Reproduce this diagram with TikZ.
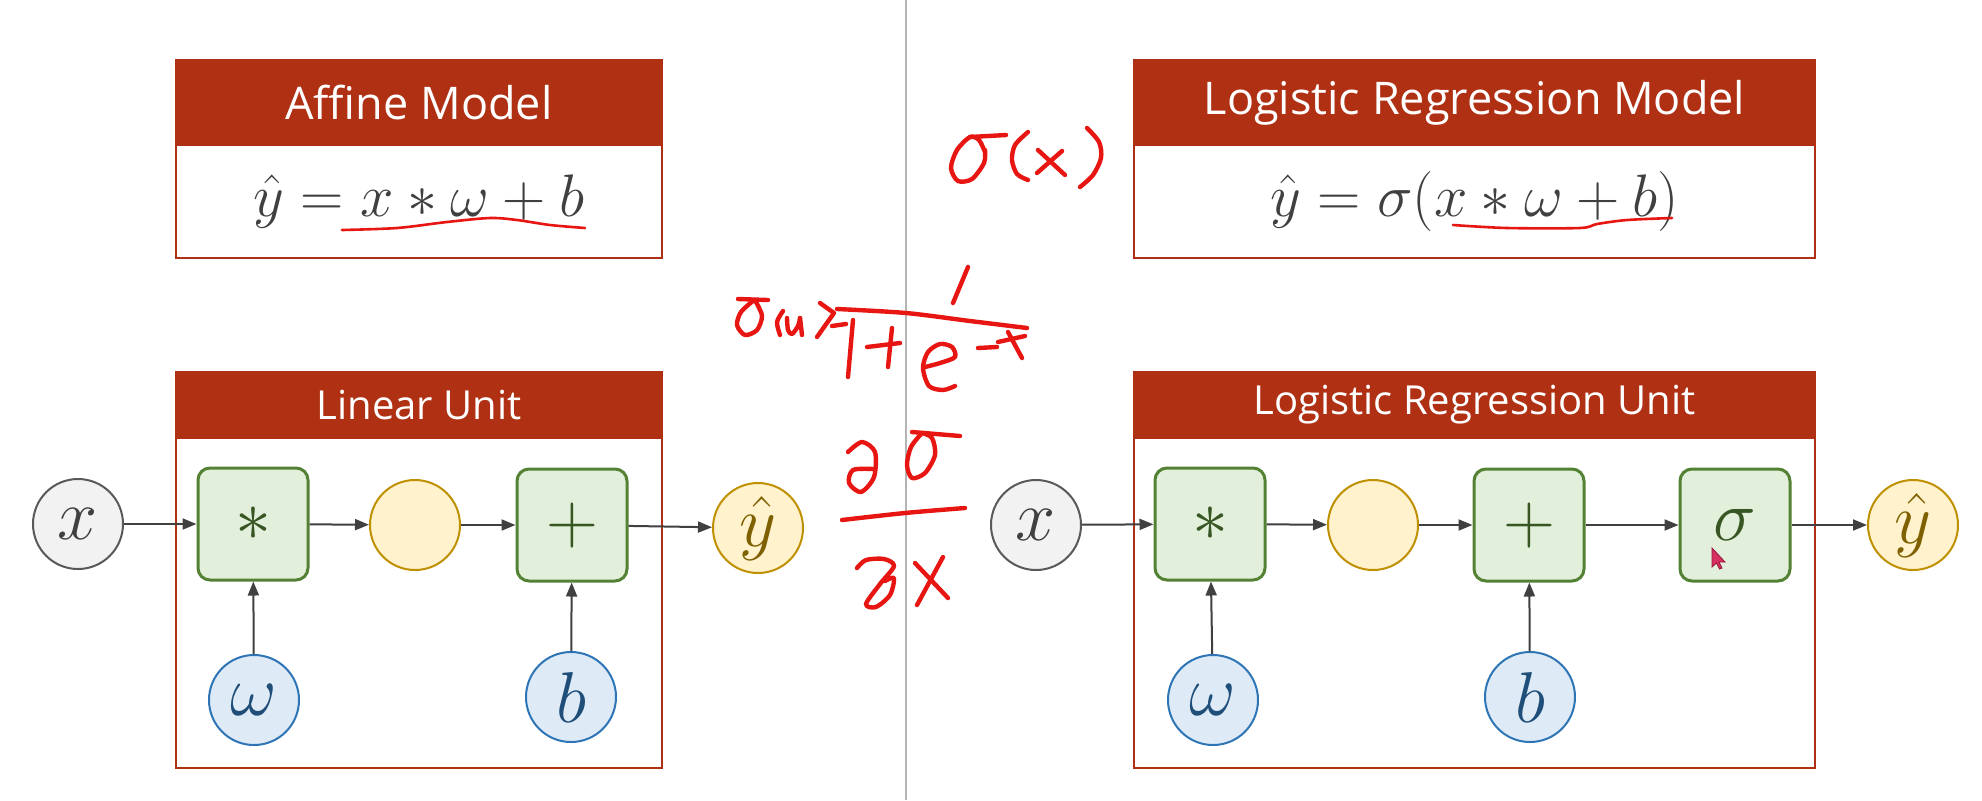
\RequirePackage{fix-cm}
\documentclass[tikz,border=0pt]{standalone}
\usepackage{fontspec}
\setsansfont{Open Sans}
\usetikzlibrary{arrows.meta}
\definecolor{hdr}{RGB}{176,48,20}
\definecolor{gfill}{RGB}{242,242,242}
\definecolor{gdraw}{RGB}{89,89,89}
\definecolor{gtext}{RGB}{64,64,64}
\definecolor{grfill}{RGB}{226,239,218}
\definecolor{grdraw}{RGB}{84,130,53}
\definecolor{grtext}{RGB}{55,86,35}
\definecolor{yfill}{RGB}{255,242,204}
\definecolor{ydraw}{RGB}{191,144,0}
\definecolor{ytext}{RGB}{127,96,0}
\definecolor{bfill}{RGB}{222,235,247}
\definecolor{bdraw}{RGB}{46,117,182}
\definecolor{btext}{RGB}{31,78,121}
\definecolor{arrc}{RGB}{64,64,64}
\definecolor{handred}{RGB}{232,22,18}
\definecolor{cursor}{RGB}{214,48,96}
\begin{document}
\begin{tikzpicture}[x=0.5pt,y=-0.5pt,
  hdrbox/.style={rectangle, fill=hdr, draw=hdr, line width=1pt, text=white, inner sep=0pt},
  bodybox/.style={rectangle, fill=white, draw=hdr, line width=1pt, inner sep=0pt},
  mtitle/.style={font=\sffamily\fontsize{22.5}{27}\selectfont},
  utitle/.style={font=\sffamily\fontsize{20}{24}\selectfont},
  formula/.style={text=gtext, font=\fontsize{30}{36}\selectfont},
  circ/.style={circle, line width=1pt, minimum size=45pt, inner sep=0pt, font=\fontsize{36}{42}\selectfont},
  gcirc/.style={circ, fill=gfill, draw=gdraw, text=gtext},
  ycirc/.style={circ, fill=yfill, draw=ydraw, text=ytext},
  bcirc/.style={circ, fill=bfill, draw=bdraw, text=btext},
  opbox/.style={rectangle, rounded corners=6pt, fill=grfill, draw=grdraw, line width=1.5pt,
    minimum width=55pt, minimum height=56pt, inner sep=0pt, text=grtext, font=\fontsize{36}{42}\selectfont},
  arr/.style={draw=arrc, line width=1pt, -{Triangle[length=7pt,width=5.5pt]}},
  hand/.style={draw=handred, line width=2.2pt, line cap=round, line join=round},
  thinhand/.style={draw=handred, line width=1.3pt, line cap=round, line join=round}]
\useasboundingbox (0,0) rectangle (1982,800);
\fill[white] (0,0) rectangle (1982,800);
% divider
\draw[draw={rgb,255:red,180;green,180;blue,180}, line width=1pt] (906,0) -- (906,800);

% ---------- model boxes ----------
\node[bodybox, minimum width=243pt, minimum height=56.5pt, formula] (afB) at (419,201.5) {$\hat{y} = x \ast \omega + b$};
\node[hdrbox, minimum width=243pt, minimum height=42.5pt, mtitle] (afH) at (419,102.5) {Affine Model};
\node[bodybox, minimum width=340.5pt, minimum height=56.5pt, formula] (lmB) at (1474.5,201.5) {$\hat{y} = \sigma(x \ast \omega + b)$};
\node[hdrbox, minimum width=340.5pt, minimum height=42.5pt, mtitle] (lmH) at (1474.5,102.5) {Logistic Regression Model};

% ---------- unit boxes ----------
\node[bodybox, minimum width=243pt, minimum height=165pt] (luB) at (419,603) {};
\node[hdrbox, minimum width=243pt, minimum height=33pt, utitle] (luH) at (419,405) {Linear Unit};
\node[bodybox, minimum width=340.5pt, minimum height=165pt] (ruB) at (1474.5,603) {};
\node[hdrbox, minimum width=340.5pt, minimum height=33pt, utitle] (ruH) at (1474.5,405) {Logistic Regression Unit};

% ---------- left graph ----------
\node[gcirc] (xL) at (78,524) {$x$};
\node[opbox] (mulL) at (253,524) {$\ast$};
\node[ycirc] (midL) at (415,525) {};
\node[opbox] (addL) at (572,525) {$\mathbf{+}$};
\node[ycirc] (yL) at (758,528) {$\hat{y}$};
\node[bcirc] (wL) at (254,700) {$\omega$};
\node[bcirc] (bL) at (571,697) {$b$};
\draw[arr] (xL) -- (mulL);
\draw[arr] (mulL) -- (midL);
\draw[arr] (midL) -- (addL);
\draw[arr] (addL) -- (yL);
\draw[arr] (wL) -- (mulL);
\draw[arr] (bL) -- (addL);

% ---------- right graph ----------
\node[gcirc] (xR) at (1036,525) {$x$};
\node[opbox] (mulR) at (1210,524) {$\ast$};
\node[ycirc] (midR) at (1373,525) {};
\node[opbox] (addR) at (1529,525) {$\mathbf{+}$};
\node[opbox] (sigR) at (1735,525) {$\sigma$};
\node[ycirc] (yR) at (1913,525) {$\hat{y}$};
\node[bcirc] (wR) at (1213,700) {$\omega$};
\node[bcirc] (bR) at (1530,697) {$b$};
\draw[arr] (xR) -- (mulR);
\draw[arr] (mulR) -- (midR);
\draw[arr] (midR) -- (addR);
\draw[arr] (addR) -- (sigR);
\draw[arr] (sigR) -- (yR);
\draw[arr] (wR) -- (mulR);
\draw[arr] (bR) -- (addR);

% mouse cursor
\filldraw[fill=cursor, draw={rgb,255:red,150;green,20;blue,60}, line width=0.4pt, shift={(1712,548)}]
  (0,0) -- (0,19) -- (4.5,15) -- (7.5,21) -- (10,20) -- (7,14) -- (13,14) -- cycle;

% ---------- handwriting ----------
% underlines
\draw[thinhand] plot[smooth] coordinates {(342,230) (397,228) (447,222) (490,218) (517,220) (550,225) (585,228)};
\draw[thinhand] plot[smooth] coordinates {(1453,225) (1507,228) (1580,228) (1597,224) (1627,220) (1672,218)};
% sigma(x)
\draw[hand] plot[smooth] coordinates {(985,152) (979,140) (970,137) (957,150) (951,168) (958,181) (972,179) (984,163) (985,150)};
\draw[hand] (970,137) -- (1006,135);
\draw[hand] plot[smooth] coordinates {(1028,132) (1015,145) (1012,160) (1017,174) (1028,180)};
\draw[hand] (1038,150) -- (1065,175);
\draw[hand] (1062,151) -- (1037,173);
\draw[hand] plot[smooth] coordinates {(1087,128) (1099,142) (1101,158) (1093,175) (1080,187)};
% sigma(x) = 1/(1+e^-x)
\draw[hand] (738,299) -- (768,300);
\draw[hand] plot[smooth] coordinates {(753,301) (741,312) (737,325) (745,335) (757,330) (762,316) (756,302)};
\draw[hand] plot[smooth] coordinates {(783,311) (777,322) (780,335)};
\draw[hand] plot[smooth] coordinates {(787,318) (788,330) (792,334) (798,326) (800,318)};
\draw[hand] (800,318) -- (802,335);
\draw[hand] (820,303) -- (834,313) -- (817,337);
\draw[hand] (832,326) -- (846,324);
\draw[hand] plot[smooth] coordinates {(837,309) (906,313) (970,321) (1027,328)};
\draw[hand] (968,267) -- (953,303);
\draw[hand] (853,320) -- (848,377);
\draw[hand] (867,347) -- (900,343);
\draw[hand] (892,328) -- (888,367);
\draw[hand] plot[smooth] coordinates {(925,367) (940,363) (955,357) (952,347) (940,344) (928,352) (923,368) (929,386) (943,390) (955,386)};
\draw[hand] (978,348) -- (997,347);
\draw[hand] (998,342) -- (1025,336);
\draw[hand] (1008,332) -- (1022,358);
% d sigma / d x
\draw[hand] plot[smooth] coordinates {(848,452) (862,442) (875,452) (874,477) (861,492) (849,483) (853,470) (873,469)};
\draw[hand] (912,432) -- (960,436);
\draw[hand] plot[smooth] coordinates {(922,433) (911,447) (907,465) (912,478) (925,473) (935,455) (932,438) (922,433)};
\draw[hand] plot[smooth] coordinates {(842,520) (905,513) (965,508)};
\draw[hand] plot[smooth] coordinates {(857,568) (866,560) (884,559) (894,566) (880,584) (866,604) (876,607) (890,595) (894,578) (885,581)};
\draw[hand] (915,563) -- (948,598);
\draw[hand] (943,557) -- (917,605);
\end{tikzpicture}
\end{document}
